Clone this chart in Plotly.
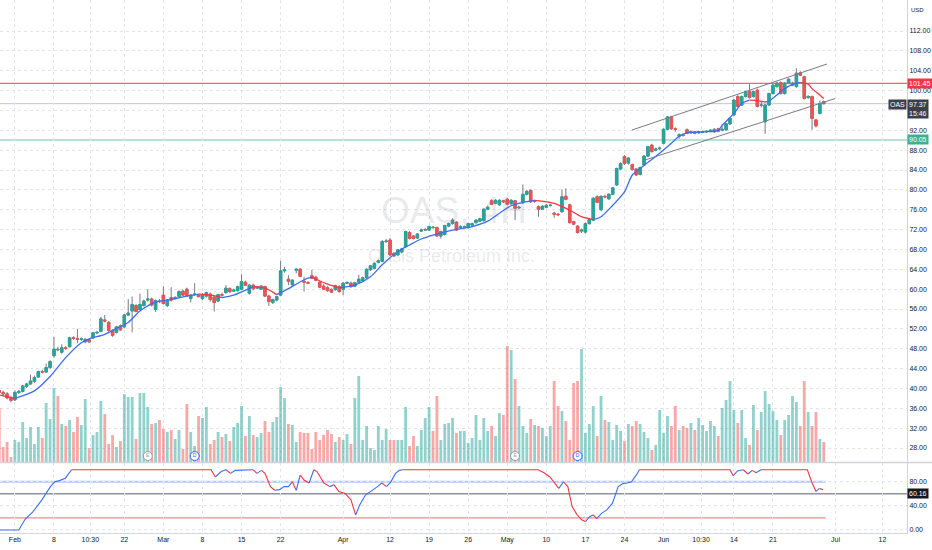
import plotly.graph_objects as go

# ---- OAS 4H bars (index 0 = first 4H bar of Feb 1, two bars per session) ----
bar_start = -4

opens = [
    39.6, 39.2, 38.9, 38.1,                                            # -4..-1
    37.7, 39.2, 39.4, 40.4, 40.9, 41.4, 42.3, 43.4, 43.3, 44.2,        # 0..9
    46.6, 47.9, 47.3, 48.2, 48.4, 50.2, 50.0, 49.9, 49.4, 49.8,        # 10
    50.2, 51.2, 51.5, 53.8, 53.3, 51.7, 51.3, 52.6, 52.4, 54.8,        # 20
    55.6, 56.7, 55.9, 56.7, 57.8, 58.0, 55.9, 57.6, 58.8, 56.7,        # 30
    58.3, 58.1, 58.5, 59.6, 60.0, 58.1, 58.9, 58.8, 58.1, 58.6,        # 40
    59.0, 58.4, 57.6, 58.9, 59.3, 60.1, 59.6, 59.7, 60.0, 61.4,        # 50
    59.2, 60.8, 60.2, 60.0, 60.5, 58.6, 57.3, 57.8, 58.8, 63.7,        # 60
    62.0, 60.9, 63.8, 64.0, 61.6, 61.3, 62.7, 62.4, 61.4, 60.6,        # 70
    60.3, 59.9, 59.9, 60.5, 60.0, 61.2, 61.2, 60.6, 61.4, 61.7,        # 80
    62.3, 63.9, 64.2, 65.4, 65.6, 69.6, 69.9, 67.2, 66.9, 67.5,        # 90
    68.6, 71.4, 70.7, 70.3, 71.7, 71.9, 71.9, 72.5, 72.4, 70.7,        # 100
    71.0, 72.7, 73.2, 73.5, 72.4, 72.5, 72.4, 72.9, 73.4, 73.7,        # 110
    73.8, 76.1, 77.8, 77.3, 77.0, 77.8, 78.1, 77.2, 77.8, 76.4,        # 120
    77.4, 79.1, 79.9, 77.7, 76.6, 76.1, 76.5, 76.9, 75.3, 75.1,        # 130
    75.6, 78.7, 77.0, 73.6, 72.7, 71.7, 71.5, 73.2, 73.9, 78.6,        # 140
    76.0, 78.7, 78.2, 79.1, 81.0, 84.2, 86.7, 85.4, 85.1, 84.2,        # 150
    83.1, 85.0, 86.8, 89.0, 88.0, 88.3, 89.4, 92.2, 94.7, 92.3,        # 160
    90.8, 91.1, 92.1, 91.5, 91.7, 91.5, 91.6, 91.7, 91.8, 91.7,        # 170
    92.3, 92.0, 92.1, 93.3, 95.1, 98.8, 97.1, 98.8, 99.8, 98.8,        # 180
    100.1, 97.0, 93.7, 97.1, 99.4, 100.8, 101.6, 99.4, 101.5, 101.1,   # 190
    100.8, 103.6, 102.8, 98.6, 98.8, 94.1, 95.4, 97.8,                 # 200..207
]
highs = [
    40.2, 39.6, 39.3, 38.5,
    39.6, 39.7, 40.7, 41.1, 42.8, 42.6, 43.6, 43.8, 45.0, 45.7,
    50.4, 48.4, 48.9, 48.5, 50.4, 50.5, 52.0, 50.3, 50.1, 50.0,
    51.4, 51.6, 54.4, 54.8, 53.6, 51.9, 52.6, 52.9, 55.0, 58.0,
    58.5, 57.0, 59.1, 57.9, 60.0, 58.3, 57.9, 58.0, 60.6, 58.0,
    60.4, 58.6, 59.8, 59.9, 60.3, 59.0, 61.2, 59.0, 59.2, 59.5,
    59.3, 58.7, 59.1, 59.3, 60.8, 60.4, 60.1, 60.7, 63.0, 61.7,
    61.0, 61.1, 60.6, 60.8, 60.7, 58.9, 58.1, 58.7, 65.7, 64.5,
    62.8, 62.0, 64.2, 64.3, 62.5, 61.6, 63.9, 62.7, 61.6, 61.0,
    60.6, 60.2, 60.9, 60.8, 61.4, 61.6, 61.5, 61.5, 62.9, 62.5,
    64.2, 64.9, 65.4, 66.0, 69.9, 70.1, 70.3, 67.5, 68.1, 68.3,
    71.8, 71.7, 70.9, 71.3, 72.2, 72.3, 72.8, 72.7, 72.6, 71.8,
    73.0, 73.4, 74.3, 73.7, 72.9, 72.8, 73.4, 73.4, 74.1, 74.4,
    76.3, 76.8, 78.1, 78.1, 78.1, 78.0, 78.4, 78.1, 78.0, 76.8,
    81.1, 80.0, 80.1, 78.0, 76.9, 76.9, 77.1, 77.2, 75.6, 75.3,
    80.1, 80.3, 77.2, 73.8, 72.9, 72.2, 73.4, 74.2, 78.5, 78.9,
    78.9, 79.0, 79.3, 80.6, 84.5, 85.6, 87.0, 86.6, 85.3, 84.4,
    84.7, 87.0, 88.9, 89.3, 88.5, 88.7, 92.4, 94.9, 94.9, 92.6,
    91.4, 91.4, 92.4, 91.9, 91.9, 91.9, 91.9, 92.0, 92.2, 92.4,
    92.5, 93.3, 93.5, 94.6, 98.3, 99.1, 99.0, 100.0, 101.3, 100.0,
    100.4, 97.7, 97.3, 99.6, 101.3, 101.8, 101.9, 101.7, 102.5, 101.8,
    104.5, 103.9, 103.0, 99.1, 99.0, 94.3, 98.0, 98.0,
]
lows = [
    38.8, 38.4, 37.8, 37.2,
    37.5, 38.9, 39.2, 40.1, 40.7, 41.1, 42.1, 43.0, 43.1, 44.0,
    46.2, 47.5, 47.0, 47.8, 48.3, 49.8, 49.1, 49.6, 49.1, 49.1,
    50.0, 50.9, 51.3, 53.3, 51.4, 50.4, 51.1, 51.6, 52.1, 54.6,
    51.3, 55.3, 55.7, 56.5, 57.5, 56.5, 55.4, 57.2, 56.9, 56.4,
    57.5, 57.9, 58.3, 58.6, 58.4, 57.3, 58.7, 58.3, 57.8, 58.3,
    57.5, 55.5, 57.4, 58.5, 59.1, 59.2, 59.4, 59.5, 59.8, 60.6,
    58.9, 59.8, 60.0, 59.8, 58.4, 56.6, 57.0, 57.5, 58.6, 63.3,
    60.8, 60.6, 63.2, 62.4, 59.5, 61.0, 62.0, 61.6, 60.2, 59.8,
    59.5, 59.2, 59.7, 59.3, 58.8, 61.0, 60.3, 60.4, 61.2, 61.5,
    62.1, 63.7, 64.0, 65.2, 65.4, 69.3, 66.7, 66.5, 66.7, 67.2,
    68.4, 70.0, 70.0, 70.1, 71.5, 71.7, 71.7, 72.2, 70.5, 70.2,
    70.8, 72.5, 73.0, 71.7, 72.2, 72.3, 72.2, 72.7, 73.2, 73.5,
    73.6, 75.9, 76.9, 77.1, 76.8, 77.4, 76.9, 77.0, 73.9, 76.1,
    77.2, 78.9, 77.4, 77.4, 74.6, 75.9, 76.3, 76.6, 74.4, 74.7,
    75.4, 77.9, 73.2, 72.9, 71.2, 71.3, 71.2, 73.0, 73.7, 77.3,
    75.7, 78.3, 78.0, 78.9, 80.8, 84.0, 85.0, 85.1, 83.9, 82.8,
    82.9, 84.8, 86.6, 87.5, 87.8, 88.0, 89.2, 92.0, 92.1, 91.7,
    90.3, 90.7, 91.2, 91.3, 91.2, 91.3, 91.4, 91.5, 91.6, 91.5,
    91.6, 91.8, 91.9, 93.1, 94.9, 96.6, 96.9, 98.6, 98.4, 98.6,
    96.6, 96.6, 91.3, 96.9, 99.2, 100.6, 99.2, 99.2, 101.3, 100.9,
    100.6, 102.9, 98.2, 98.3, 92.1, 92.6, 95.2, 97.2,
]
closes = [
    39.2, 38.9, 38.1, 37.6,
    39.2, 39.4, 40.5, 40.9, 41.5, 42.2, 43.4, 43.3, 44.2, 45.4,
    47.9, 47.8, 48.2, 48.1, 50.2, 50.1, 49.9, 50.0, 49.9, 49.4,
    51.2, 51.3, 54.0, 53.6, 51.7, 50.7, 52.4, 51.8, 54.8, 55.2,
    56.9, 55.5, 56.9, 57.6, 58.0, 56.8, 57.7, 57.5, 57.1, 57.8,
    57.8, 58.3, 59.5, 58.8, 58.6, 58.8, 59.0, 58.5, 58.9, 59.3,
    57.9, 57.3, 58.9, 58.8, 60.2, 59.5, 59.8, 60.5, 61.5, 60.8,
    60.8, 60.1, 60.4, 60.6, 58.6, 57.5, 57.9, 58.5, 63.7, 63.9,
    61.6, 61.8, 64.0, 62.6, 61.4, 61.2, 62.2, 61.8, 60.4, 60.0,
    59.7, 59.4, 60.7, 59.5, 61.2, 61.3, 60.5, 61.3, 62.0, 62.3,
    64.0, 64.7, 65.2, 65.7, 69.6, 69.7, 66.9, 66.7, 67.9, 68.1,
    71.6, 70.2, 70.2, 71.1, 71.9, 72.0, 72.6, 72.4, 70.7, 71.6,
    72.8, 73.2, 73.9, 71.9, 72.6, 72.6, 73.2, 73.2, 73.9, 74.2,
    76.1, 76.5, 77.1, 77.9, 77.9, 77.6, 77.1, 77.9, 76.3, 76.5,
    79.1, 79.7, 77.6, 77.8, 76.1, 76.7, 76.9, 76.9, 75.1, 75.0,
    78.6, 78.1, 73.4, 73.1, 71.4, 71.9, 73.2, 74.0, 78.3, 77.5,
    78.7, 78.6, 79.1, 80.4, 84.3, 85.3, 85.3, 86.4, 84.1, 83.0,
    84.5, 86.8, 88.7, 87.7, 88.2, 88.4, 92.2, 94.7, 92.3, 92.2,
    91.1, 91.0, 91.4, 91.7, 91.4, 91.7, 91.7, 91.8, 92.0, 92.2,
    91.8, 92.2, 93.3, 94.4, 98.1, 96.8, 98.8, 99.8, 98.6, 99.8,
    96.8, 97.1, 97.1, 99.4, 101.1, 101.5, 99.4, 101.5, 102.3, 101.5,
    103.5, 103.1, 98.4, 98.8, 94.4, 92.9, 97.4, 97.37,
]
# volume, thousands of shares
volumes = [
    1350, 375, 500, 125,
    550, 500, 1000, 600, 875, 450, 875, 600, 1475, 1075,
    1850, 1650, 950, 900, 1050, 750, 1125, 925, 1575, 350,
    675, 750, 1525, 1200, 450, 675, 375, 525, 1700, 1625,
    1625, 575, 1725, 1725, 1375, 950, 975, 1050, 825, 750,
    800, 575, 800, 325, 1450, 750, 400, 1150, 1100, 1375,
    450, 550, 750, 625, 700, 525, 875, 975, 1400, 650,
    1150, 675, 625, 725, 1025, 750, 1000, 1125, 1875, 1600,
    950, 925, 500, 750, 725, 725, 325, 750, 550, 675,
    800, 700, 500, 625, 550, 700, 450, 1600, 2150, 550,
    900, 350, 300, 900, 550, 825, 550, 550, 550, 550,
    1375, 400, 650, 400, 800, 1100, 1375, 775, 1650, 550,
    950, 975, 1100, 725, 775, 775, 475, 600, 1175, 550,
    1100, 775, 900, 650, 1225, 1175, 2900, 2800, 2075, 1400,
    900, 725, 1075, 925, 900, 850, 650, 900, 2025, 1400,
    1275, 1025, 550, 1975, 2025, 2825, 725, 950, 1400, 650,
    1650, 1050, 1000, 550, 925, 775, 525, 950, 900, 1025,
    950, 750, 600, 300, 425, 1300, 725, 1150, 900, 1400,
    800, 900, 850, 975, 800, 1100, 925, 775, 1025, 900,
    650, 1350, 1550, 2025, 1300, 975, 1300, 600, 425, 1425,
    800, 1250, 1775, 1450, 1275, 1050, 675, 1050, 1175, 1650,
    1500, 900, 2025, 1250, 900, 1250, 575, 500,
]

# smoothed trend line, vertices (bar index, price)
ma_x = [-4, 0, 5, 9, 13, 17, 19, 23, 26, 29, 32, 36, 40, 44, 47, 50, 53, 56, 61, 64,
        67, 70, 74, 76, 80, 83, 87, 91, 94, 98, 101, 104, 107, 112, 117, 121, 124, 127, 130, 133,
        138, 142, 145, 148, 150, 153, 156, 158, 160, 165, 168, 170, 172, 176, 180, 181, 184, 186, 188, 190,
        192, 193, 195, 197, 200, 201, 203, 204, 206, 207]
ma_v = [38.7, 38.0, 39.5, 42.4, 46.2, 49.2, 50.0, 50.9, 52.1, 53.3, 55.6, 57.4, 57.9, 58.6, 59.0, 58.8, 58.3, 58.8, 60.5, 60.2,
        58.9, 60.1, 61.9, 62.4, 61.0, 60.3, 60.8, 62.5, 64.9, 67.6, 68.9, 70.1, 70.9, 71.9, 72.6, 73.7, 75.3, 76.8, 77.5, 77.9,
        77.3, 75.9, 74.6, 74.0, 74.6, 76.9, 79.6, 83.0, 84.3, 87.4, 89.4, 90.8, 91.5, 91.7, 92.0, 93.0, 95.4, 97.4, 98.1, 98.0,
        97.7, 97.9, 99.1, 100.4, 101.5, 101.6, 101.3, 100.4, 99.1, 98.4]

# lower-pane oscillator, vertices (bar index, value)
osc_x = [-4, 1, 2.6, 4.6, 6.9, 9.1, 10.2, 11.4, 12.9, 14.5, 50.2, 51.3, 52.8, 54, 55.2, 56.4, 61, 61.9, 63.1, 64,
         65.4, 66.5, 67.7, 68.9, 70, 71, 72, 73, 74, 75.3, 76.5, 77.3, 79.1, 80.6, 81.7, 82.9, 84.4, 86, 87.2, 88.2,
         89.7, 91.3, 92.8, 93.9, 95.1, 96.2, 97.4, 98.4, 99.2, 133.9, 135.4, 136.9, 138.5, 139.2, 140.4, 141.5, 142.6, 143.8, 145, 146,
         147.1, 148, 148.9, 150.2, 151.4, 152.9, 154.4, 155.6, 156.7, 157.8, 159, 159.8, 183, 183.8, 184.9, 186.4, 187.6, 188.7, 189.7, 190.9,
         202.8, 203.9, 205, 205.9, 206.8]
osc_v = [0, 0, 17.7, 30, 50, 72, 80, 82, 86, 100, 100, 88, 97, 100, 94, 99, 100, 94, 99, 94,
         72, 66, 67, 72, 72, 80, 66, 91, 83, 78, 100, 97, 78, 72, 75, 64, 61, 50, 25, 41,
         58, 65, 72, 78, 72, 80, 94, 99, 100, 100, 95, 88, 75, 69, 80, 72, 39, 26, 17, 14,
         22, 25, 19, 28, 33, 44, 72, 77, 78, 80, 91, 100, 100, 90, 98, 100, 93, 99, 95, 100,
         100, 80, 64, 69, 67]
osc_upper, osc_lower, osc_last = 80, 20, 60.16

# drawn channel and levels
chan_up_x, chan_up_y = [157.9, 207.8], [92.05, 105.35]
chan_lo_x, chan_lo_y = [161.2, 209.9], [86.0, 98.4]
resistance, support, last_price = 101.45, 90.05, 97.37

# earnings / dividend flags
event_x = [34, 46, 128, 144]
event_label = ['E', 'D', 'E', 'D']

# time axis labels
tick_pos = [0, 10, 19.3, 28, 38, 48, 58, 68, 84, 96, 106, 116, 126, 136, 146, 156, 166, 175.6, 184, 194, 210, 222]
tick_text = ['Feb', '8', '10:30', '22', 'Mar', '8', '15', '22', 'Apr', '12', '19', '26',
             'May', '10', '17', '24', 'Jun', '10:30', '14', '21', 'Jul', '12']
price_ticks = list(range(28, 113, 4))
hidden_ticks = [96]  # sits under the last-price tag

GREEN, RED = '#26a69a', '#ef5350'
BLUE_LINE, RED_LINE = '#3d6ef0', '#f23645'
TXT = '#131722'
GRID = '#e3e5ec'
FONT = 'Liberation Sans'

bars = list(range(bar_start, bar_start + len(closes)))
X_RANGE = [-3.813, 228.3]


def colored_runs(xs, vs, up, down, flat_top=None):
    """Split a polyline into runs coloured by direction."""
    runs = []
    for k in range(len(xs) - 1):
        if vs[k + 1] > vs[k]:
            col = up
        elif vs[k + 1] < vs[k]:
            col = down
        else:
            col = down if (flat_top is not None and vs[k] >= flat_top) else up
        if runs and runs[-1][0] == col:
            runs[-1][1].append(xs[k + 1])
            runs[-1][2].append(vs[k + 1])
        else:
            runs.append([col, [xs[k], xs[k + 1]], [vs[k], vs[k + 1]]])
    return runs


fig = go.Figure()

# volume (base axis of the price pane, so candles sit on top)
vol_colors = ['rgba(38,166,154,0.5)' if c >= o else 'rgba(239,83,80,0.5)'
              for o, c in zip(opens, closes)]
fig.add_trace(go.Bar(x=bars, y=volumes, marker=dict(color=vol_colors, line=dict(width=0)),
                     width=0.72, xaxis='x', yaxis='y', hoverinfo='skip'))

# event flags
ev_col = ['#9598a1' if t == 'E' else '#2962ff' for t in event_label]
fig.add_trace(go.Scatter(
    x=event_x, y=[150] * len(event_x), mode='markers+text', text=event_label,
    textfont=dict(size=5, color=ev_col, family=FONT),
    marker=dict(size=9, color='white', line=dict(color=ev_col, width=1)),
    xaxis='x', yaxis='y', hoverinfo='skip'))

# channel
for cx, cy in [(chan_up_x, chan_up_y), (chan_lo_x, chan_lo_y)]:
    fig.add_trace(go.Scatter(x=cx, y=cy, mode='lines', line=dict(color='#787b86', width=1),
                             xaxis='x', yaxis='y3', hoverinfo='skip'))

# trend line
for col, rx, rv in colored_runs(ma_x, ma_v, BLUE_LINE, RED_LINE):
    fig.add_trace(go.Scatter(x=rx, y=rv, mode='lines',
                             line=dict(color=col, width=1.3, shape='spline', smoothing=0.8),
                             xaxis='x', yaxis='y3', hoverinfo='skip'))

# candles: grey wicks, then coloured bodies on top
fig.add_trace(go.Candlestick(
    x=bars, open=opens, high=highs, low=lows, close=closes,
    increasing=dict(line=dict(color='#787b86', width=1), fillcolor='#787b86'),
    decreasing=dict(line=dict(color='#787b86', width=1), fillcolor='#787b86'),
    xaxis='x', yaxis='y3', hoverinfo='skip'))
body_hi = [max(o, c) for o, c in zip(opens, closes)]
body_lo = [min(o, c) for o, c in zip(opens, closes)]
fig.add_trace(go.Candlestick(
    x=bars, open=opens, high=body_hi, low=body_lo, close=closes,
    increasing=dict(line=dict(color=GREEN, width=0.8), fillcolor=GREEN),
    decreasing=dict(line=dict(color=RED, width=0.8), fillcolor=RED),
    xaxis='x', yaxis='y3', hoverinfo='skip'))

# oscillator
for col, rx, rv in colored_runs(osc_x, osc_v, BLUE_LINE, RED_LINE, flat_top=100):
    fig.add_trace(go.Scatter(x=rx, y=rv, mode='lines', line=dict(color=col, width=1.1),
                             xaxis='x', yaxis='y2', hoverinfo='skip'))

shapes = [
    dict(type='line', xref='paper', x0=0, x1=1, yref='y3', y0=resistance, y1=resistance,
         line=dict(color='#f0696a', width=1.2), layer='below'),
    dict(type='line', xref='paper', x0=0, x1=1, yref='y3', y0=support, y1=support,
         line=dict(color='#6cc3ad', width=1.2), layer='below'),
    dict(type='line', xref='paper', x0=0, x1=1, yref='y3', y0=last_price, y1=last_price,
         line=dict(color='#c3c6ce', width=1), layer='below'),
    dict(type='line', xref='x', x0=X_RANGE[0], x1=bars[-1] + 0.5, yref='y2', y0=osc_upper, y1=osc_upper,
         line=dict(color='rgba(41,98,255,0.35)', width=2), layer='below'),
    dict(type='line', xref='x', x0=X_RANGE[0], x1=bars[-1] + 0.5, yref='y2', y0=osc_lower, y1=osc_lower,
         line=dict(color='rgba(242,54,69,0.6)', width=1.2), layer='below'),
    dict(type='line', xref='paper', x0=0, x1=1, yref='y2', y0=osc_last, y1=osc_last,
         line=dict(color='#8f929b', width=1.6), layer='below'),
    # pane separator
    dict(type='line', xref='paper', x0=0, x1=1.03, yref='paper', y0=0.1325, y1=0.1325,
         line=dict(color='#d1d4dc', width=1.5)),
]

lbl_font = dict(family=FONT, size=7, color='white')
annotations = [
    dict(text='OAS, 4H', xref='paper', yref='paper', x=0.5006, y=0.606, showarrow=False,
         font=dict(family=FONT, size=37, color='rgba(120,123,134,0.17)')),
    dict(text='Oasis Petroleum Inc.', xref='paper', yref='paper', x=0.498, y=0.52, showarrow=False,
         font=dict(family=FONT, size=18, color='rgba(120,123,134,0.17)')),
    dict(text=f'{resistance:.2f}', xref='paper', x=1, xanchor='left', yref='y3', y=resistance,
         showarrow=False, bgcolor='#f23645', borderpad=1, font=lbl_font),
    dict(text=f'{support:.2f}', xref='paper', x=1, xanchor='left', yref='y3', y=support,
         showarrow=False, bgcolor='#3fae95', borderpad=1, font=lbl_font),
    dict(text='OAS', xref='paper', x=1, xanchor='right', yref='y3', y=last_price, yshift=-0.5,
         showarrow=False, bgcolor='#3b3f4a', borderpad=1, font=lbl_font),
    dict(text=f'{last_price:.2f}<br>15:46', xref='paper', x=1, xanchor='left', yref='y3', y=last_price,
         yanchor='top', yshift=5, showarrow=False, bgcolor='#3b3f4a', borderpad=1, font=lbl_font),
    dict(text=f'{osc_last:.2f}', xref='paper', x=1, xanchor='left', yref='y2', y=osc_last,
         showarrow=False, bgcolor=TXT, borderpad=1, font=lbl_font),
    dict(text='USD', xref='paper', yref='paper', x=1.012, y=0.99, xanchor='center', showarrow=False,
         bgcolor='white', font=dict(family=FONT, size=6, color=TXT)),
]

axis_font = dict(family=FONT, size=7, color=TXT)
fig.update_layout(
    width=932, height=550,
    margin=dict(l=0, r=25, t=0, b=17),
    paper_bgcolor='white', plot_bgcolor='white',
    showlegend=False, hovermode=False,
    boxgap=0.3, boxgroupgap=0.1,
    xaxis=dict(domain=[0, 1], anchor='y2', range=X_RANGE, tickvals=tick_pos, ticktext=tick_text,
               showgrid=True, gridcolor=GRID, griddash='dot', gridwidth=1, zeroline=False,
               showline=True, linecolor='#d1d4dc', ticks='', tickfont=axis_font,
               rangeslider=dict(visible=False), fixedrange=True),
    yaxis=dict(domain=[0.1332, 1], anchor='x', range=[0, 11550], visible=False, fixedrange=True),
    yaxis3=dict(overlaying='y', anchor='x', side='right', range=[25.18, 118.25],
                tickvals=price_ticks,
                ticktext=['' if v in hidden_ticks else f'{v:.2f}' for v in price_ticks],
                showgrid=True, gridcolor=GRID, griddash='dot', zeroline=False,
                showline=True, linecolor='#d1d4dc', ticks='', tickfont=axis_font, fixedrange=True),
    yaxis2=dict(domain=[0, 0.1313], anchor='x', side='right', range=[-5, 111.2],
                tickvals=[0, 40, 80], ticktext=['0.00', '40.00', '80.00'],
                showgrid=True, gridcolor=GRID, griddash='dot', zeroline=False,
                showline=True, linecolor='#d1d4dc', ticks='', tickfont=axis_font, fixedrange=True),
    shapes=shapes,
    annotations=annotations,
)

# the page's default body margin would push the 932x550 figure off the window
fig.write_html("out.html", config={'displayModeBar': False},
               post_script="document.body.style.margin='0';")
